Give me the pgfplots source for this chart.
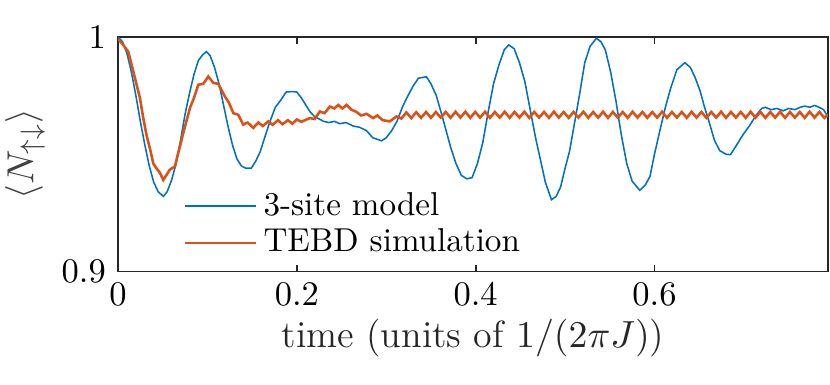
\documentclass[border=0pt]{standalone}
\usepackage{pgfplots}
\pgfplotsset{compat=1.18}
\definecolor{mblue}{rgb}{0,0.447,0.741}
\definecolor{morange}{rgb}{0.85,0.325,0.098}
\definecolor{axgray}{rgb}{0.15,0.15,0.15}
\begin{document}
\begin{tikzpicture}
\begin{axis}[
    scale only axis,
    width=205.8pt, height=68pt,
    xmin=0, xmax=0.794,
    ymin=0.9, ymax=1,
    xtick={0,0.2,0.4,0.6},
    ytick={0.9,1},
    tick align=inside,
    major tick length=2pt,
    axis line style={axgray, line width=0.5pt},
    every tick/.style={axgray, line width=0.5pt},
    tick label style={black, font=\fontsize{10}{12}\selectfont},
    xlabel={time (units of $1/(2\pi J)$)},
    ylabel={$\langle N_{\uparrow\downarrow}\rangle$},
    label style={font=\fontsize{11}{13.2}\selectfont},
    xlabel style={black!85, yshift=3pt},
    ylabel style={black!75, yshift=-2pt},
    legend style={draw=none, fill=none, at={(0.078,0.0)}, anchor=south west,
        row sep=-1.5pt, font=\fontsize{9.6}{11}\selectfont},
    legend cell align=left,
    legend image post style={xscale=1.2, line width=0.45pt},
]
\addplot[mblue, line width=0.45pt] coordinates {
(0,1.000) (0.005,0.998) (0.010,0.993) (0.015,0.985) (0.020,0.975) (0.025,0.964)
(0.030,0.954) (0.035,0.945) (0.040,0.938) (0.045,0.934) (0.0507,0.932) (0.055,0.934)
(0.060,0.939) (0.065,0.946) (0.070,0.956) (0.075,0.967) (0.080,0.976) (0.085,0.984)
(0.090,0.990) (0.095,0.9925) (0.099,0.9937) (0.103,0.992) (0.108,0.987) (0.113,0.980)
(0.118,0.971) (0.123,0.962) (0.128,0.954) (0.133,0.948) (0.138,0.945) (0.143,0.944)
(0.149,0.944) (0.154,0.947) (0.159,0.951) (0.164,0.957) (0.170,0.964) (0.176,0.970)
(0.182,0.973) (0.188,0.9765) (0.195,0.9767) (0.200,0.9765) (0.205,0.974) (0.210,0.971)
(0.215,0.968) (0.220,0.966) (0.225,0.965) (0.230,0.964) (0.236,0.9635) (0.242,0.9640)
(0.248,0.963) (0.255,0.9635) (0.263,0.962) (0.270,0.9615) (0.278,0.960) (0.285,0.957)
(0.2948,0.9557) (0.300,0.957) (0.306,0.960) (0.312,0.964) (0.318,0.970) (0.323,0.974)
(0.330,0.979) (0.336,0.9824) (0.345,0.983) (0.350,0.980) (0.356,0.975) (0.362,0.967)
(0.367,0.960) (0.372,0.953) (0.378,0.946) (0.384,0.941) (0.390,0.9395) (0.396,0.940)
(0.402,0.946) (0.408,0.955) (0.414,0.968) (0.420,0.980) (0.426,0.988) (0.432,0.9945)
(0.437,0.9966) (0.443,0.995) (0.449,0.989) (0.455,0.981) (0.461,0.969) (0.467,0.957)
(0.472,0.9484) (0.478,0.938) (0.4848,0.9306) (0.490,0.932) (0.495,0.936) (0.500,0.944)
(0.505,0.9512) (0.510,0.962) (0.516,0.975) (0.522,0.989) (0.528,0.996) (0.535,0.9994)
(0.540,0.998) (0.545,0.9945) (0.551,0.985) (0.557,0.9725) (0.563,0.958) (0.569,0.946)
(0.575,0.9385) (0.5836,0.9346) (0.590,0.937) (0.595,0.9406) (0.600,0.950) (0.606,0.960)
(0.612,0.9697) (0.618,0.978) (0.625,0.986) (0.634,0.989) (0.640,0.987) (0.645,0.9831)
(0.651,0.977) (0.656,0.970) (0.662,0.9626) (0.667,0.956) (0.673,0.9515) (0.680,0.950)
(0.685,0.9498) (0.692,0.954) (0.699,0.9583) (0.706,0.962) (0.714,0.9668) (0.720,0.9695)
(0.724,0.970) (0.730,0.969) (0.737,0.9695) (0.744,0.9685) (0.750,0.9695) (0.757,0.969)
(0.763,0.9700) (0.768,0.9705) (0.774,0.9700) (0.779,0.9708) (0.784,0.970) (0.789,0.969)
(0.794,0.966)
};
\addlegendentry{3-site model}
\addplot[morange, line width=0.75pt] coordinates {
(0,0.999) (0.005,0.997) (0.0115,0.9937) (0.016,0.987) (0.019,0.9824) (0.0246,0.9739)
(0.028,0.966) (0.032,0.958) (0.036,0.952) (0.0395,0.946) (0.043,0.944) (0.047,0.942)
(0.0507,0.939) (0.054,0.941) (0.058,0.9434) (0.0637,0.9448) (0.067,0.950) (0.0693,0.9533)
(0.073,0.959) (0.0805,0.9697) (0.085,0.974) (0.0898,0.9796) (0.0954,0.980) (0.101,0.9831)
(0.1066,0.9804) (0.1121,0.980) (0.1196,0.9746) (0.124,0.972) (0.129,0.9675) (0.1345,0.9668)
(0.140,0.9626) (0.145,0.9635) (0.1513,0.9612) (0.157,0.9635) (0.162,0.9620) (0.168,0.9640)
(0.173,0.9625) (0.179,0.9645) (0.184,0.9628) (0.190,0.9645) (0.195,0.9630) (0.200,0.9648)
(0.205,0.9638) (0.2146,0.9654) (0.220,0.9650) (0.2258,0.9682) (0.231,0.9675) (0.237,0.9703)
(0.242,0.9695) (0.2463,0.971) (0.251,0.9695) (0.2557,0.971) (0.261,0.9690) (0.2668,0.968)
(0.272,0.9665) (0.278,0.9672) (0.2854,0.9654) (0.290,0.9665) (0.296,0.9645) (0.304,0.964)
(0.3115,0.9661) (0.317,0.9652) (0.3225,0.9678) (0.328,0.9654) (0.3335,0.9679) (0.339,0.9655)
(0.3445,0.9680) (0.350,0.9655) (0.3555,0.9680) (0.361,0.9656) (0.3665,0.9680) (0.372,0.9655)
(0.3775,0.9681) (0.383,0.9656) (0.3885,0.9681) (0.394,0.9655) (0.3995,0.9680) (0.405,0.9656)
(0.4105,0.9681) (0.416,0.9655) (0.4215,0.9680) (0.427,0.9656) (0.4325,0.9681) (0.438,0.9655)
(0.4435,0.9680) (0.449,0.9656) (0.4545,0.9681) (0.460,0.9655) (0.4655,0.9680) (0.471,0.9656)
(0.4765,0.9680) (0.482,0.9655) (0.4875,0.9681) (0.493,0.9656) (0.4985,0.9680) (0.504,0.9655)
(0.5095,0.9680) (0.515,0.9656) (0.5205,0.9681) (0.526,0.9655) (0.5315,0.9680) (0.537,0.9656)
(0.5425,0.9681) (0.548,0.9655) (0.5535,0.9680) (0.559,0.9656) (0.5645,0.9680) (0.570,0.9655)
(0.5755,0.9681) (0.581,0.9656) (0.5865,0.9680) (0.592,0.9655) (0.5975,0.9680) (0.603,0.9656)
(0.6085,0.9681) (0.614,0.9655) (0.6195,0.9680) (0.625,0.9656) (0.6305,0.9680) (0.636,0.9655)
(0.6415,0.9681) (0.647,0.9656) (0.6525,0.9680) (0.658,0.9655) (0.6635,0.9680) (0.669,0.9656)
(0.6745,0.9681) (0.680,0.9655) (0.6855,0.9680) (0.691,0.9656) (0.6965,0.9680) (0.702,0.9655)
(0.7075,0.9681) (0.713,0.9656) (0.7185,0.9680) (0.724,0.9655) (0.7295,0.9680) (0.735,0.9656)
(0.7405,0.9681) (0.746,0.9655) (0.7515,0.9680) (0.757,0.9656) (0.7625,0.9680) (0.768,0.9655)
(0.7735,0.9681) (0.779,0.9656) (0.7845,0.9680) (0.790,0.9655) (0.794,0.9670)
};
\addlegendentry{TEBD simulation}
\coordinate (ll) at (rel axis cs:0,0);
\coordinate (ur) at (rel axis cs:1,1);
\end{axis}
\pgfresetboundingbox
\path ([xshift=-34.2pt,yshift=-32.8pt]ll) rectangle ([xshift=0.6pt,yshift=10.7pt]ur);
\end{tikzpicture}
\end{document}
